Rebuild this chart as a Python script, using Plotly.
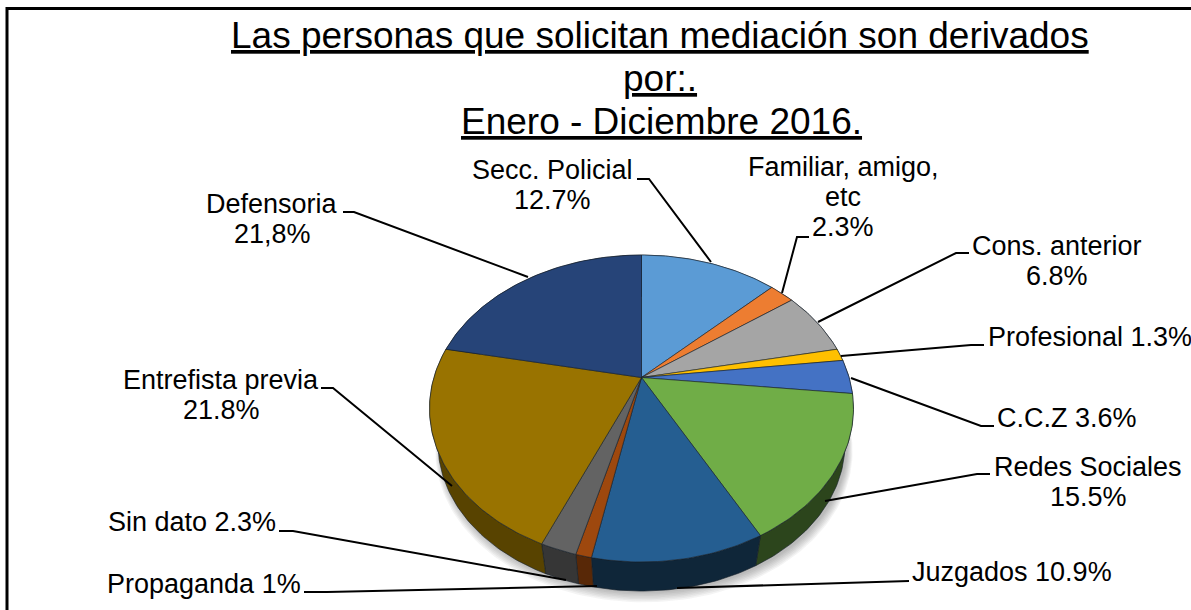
import numpy as np
import plotly.graph_objects as go

# ---- data ----
categories = ["Secc. Policial", "Familiar, amigo, etc", "Cons. anterior", "Profesional", "C.C.Z",
              "Redes Sociales", "Juzgados", "Propaganda", "Sin dato", "Entrefista previa", "Defensoria"]
values = [12.7, 2.3, 6.8, 1.3, 3.6, 15.5, 10.9, 1.0, 2.3, 21.8, 21.8]
title_lines = ["Las personas que solicitan mediación son derivados", "por:.", "Enero - Diciembre 2016."]
label_lines = [["Secc. Policial", "12.7%"], ["Familiar, amigo,", "etc", "2.3%"], ["Cons. anterior", "6.8%"],
               ["Profesional 1.3%"], ["C.C.Z 3.6%"], ["Redes Sociales", "15.5%"], ["Juzgados 10.9%"],
               ["Propaganda 1%"], ["Sin dato 2.3%"], ["Entrefista previa", "21.8%"], ["Defensoria", "21,8%"]]

# ---- styles and layout ----
top_colors = ["#5B9BD5", "#ED7D31", "#A5A5A5", "#FFC000", "#4472C4", "#70AD47",
              "#255E91", "#9E480E", "#636363", "#997300", "#264478"]
side_colors = ["#375D80", "#8E4B1D", "#636363", "#997300", "#294476", "#2C451C",
               "#0F2639", "#582807", "#363636", "#584300", "#16284A"]
edge = "rgba(20,30,40,0.75)"
W, H = 1191, 610
CX, CY = 641.5, 377.5            # apex of the pie on the page
A, B, K = 147.2, 207.6, 0.202    # perspective of the top face
SCALE, DROP = 0.96, 36.5         # bottom rim of the pie
FONT = "Liberation Sans"
LABEL_SIZE, LABEL_STEP = 27, 30
TITLE_SIZE = 37
title_pos = [(660, 35), (660, 78), (661, 121)]
label_pos = [(552, 170), (843, 167), (1057, 246), (1090, 337), (1067, 418),
             (1088, 467), (1012, 572), (204, 584), (192, 522), (221, 380), (272, 204)]
leaders = [[(637, 179), (649, 179), (711, 262)], [(809, 237), (797, 237), (782, 293)],
           [(969, 253), (956, 253), (818, 322)], [(984, 345), (971, 345), (841, 356)],
           [(994, 426), (981, 426), (851, 378)], [(990, 474), (977, 474), (825, 501)],
           [(909, 581), (677, 588)], [(304, 592), (327, 592), (597, 586)],
           [(279, 531), (293, 531), (566, 580)], [(321, 388), (333, 388), (452, 486)],
           [(343, 212), (354, 212), (528, 277)]]


def rim(t, scale=1.0, drop=0.0):
    """Project the circle angle t (radians, clockwise from top) on the page."""
    d = 1 + K * np.cos(t)
    return CX + scale * B * np.sin(t) / d, CY + drop - scale * A * np.cos(t) / d


shares = np.array(values) / sum(values) * 2 * np.pi
ends = np.cumsum(shares)
starts = ends - shares
fig = go.Figure()

# soft shadow under the pie
full = np.linspace(0, 2 * np.pi, 241)
for i in range(7):
    sx, sy = rim(full, SCALE + 0.004 * i, DROP + 2 + i * 0.8)
    fig.add_trace(go.Scatter(x=sx + 2.5, y=sy, mode="lines", fill="toself", line=dict(width=0),
                             fillcolor="rgba(60,60,60,0.055)", hoverinfo="skip", showlegend=False))

# side walls
for name, s, e, c in zip(categories, starts, ends, side_colors):
    t = np.linspace(s, e, max(int((e - s) * 60), 4))
    x1, y1 = rim(t)
    x2, y2 = rim(t[::-1], SCALE, DROP)
    fig.add_trace(go.Scatter(x=np.r_[x1, x2, x1[0]], y=np.r_[y1, y2, y1[0]], mode="lines", fill="toself",
                             fillcolor=c, line=dict(color=edge, width=0.8), name=name,
                             hoverinfo="skip", showlegend=False))

# top faces
for name, v, s, e, c in zip(categories, values, starts, ends, top_colors):
    t = np.linspace(s, e, max(int((e - s) * 60), 4))
    x1, y1 = rim(t)
    fig.add_trace(go.Scatter(x=np.r_[CX, x1, CX], y=np.r_[CY, y1, CY], mode="lines", fill="toself",
                             fillcolor=c, line=dict(color=edge, width=0.8), name=name,
                             text=f"{name}: {v}%", hoverinfo="text", showlegend=False))

# leader lines
for pts in leaders:
    fig.add_trace(go.Scatter(x=[p[0] for p in pts], y=[p[1] for p in pts], mode="lines",
                             line=dict(color="#000000", width=2), hoverinfo="skip", showlegend=False))

annotations = []
for line, (x, y) in zip(title_lines, title_pos):
    annotations.append(dict(x=x, y=y, text=line, xref="x", yref="y", showarrow=False, xanchor="center",
                            yanchor="middle", font=dict(family=FONT, size=TITLE_SIZE, color="#000000",
                                                        lineposition="under")))
for lines, (x, y) in zip(label_lines, label_pos):
    for i, line in enumerate(lines):
        annotations.append(dict(x=x, y=y + i * LABEL_STEP, text=line, xref="x", yref="y", showarrow=False,
                                xanchor="center", yanchor="middle",
                                font=dict(family=FONT, size=LABEL_SIZE, color="#000000")))

fig.update_layout(
    width=W, height=H, margin=dict(l=0, r=0, t=0, b=0), paper_bgcolor="#FFFFFF", plot_bgcolor="#FFFFFF",
    showlegend=False, annotations=annotations,
    xaxis=dict(range=[0, W], visible=False, fixedrange=True),
    yaxis=dict(range=[H, 0], visible=False, fixedrange=True),
    shapes=[dict(type="line", x0=6, x1=W, y0=8.5, y1=8.5, xref="x", yref="y", line=dict(color="#000000", width=3)),
            dict(type="line", x0=7, x1=7, y0=7, y1=H, xref="x", yref="y", line=dict(color="#000000", width=3))],
)
fig.write_html("out.html", config=dict(displayModeBar=False),
               post_script="document.body.style.margin='0';")
